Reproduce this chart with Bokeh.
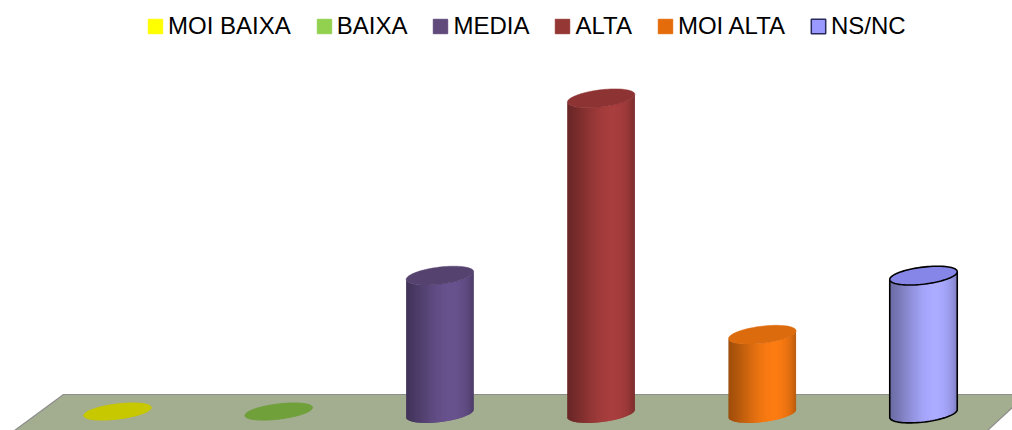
import numpy as np
from bokeh.plotting import figure
from bokeh.models import Range1d, Legend, LegendItem
from bokeh.embed import file_html
from bokeh.resources import INLINE

# ---------------- data ----------------
categories = ["MOI BAIXA", "BAIXA", "MEDIA", "ALTA", "MOI ALTA", "NS/NC"]
values = [0, 0, 7, 16, 4, 7]
legend_colors = ["#FFFF00", "#92D050", "#604A7B", "#953735", "#E46C0A", "#9999FF"]
body_colors = ["#C8C800", "#6FA03A", "#67518C", "#A63D3D", "#F87A12", "#A8A8FF"]
top_colors = ["#C8C800", "#6FA03A", "#56426F", "#8E3333", "#DC6B0D", "#8686E8"]
outline_colors = [None, None, None, None, None, "#000000"]

# ---------------- geometry (pixel scale helpers) ----------------
W, H = 1012, 430
SX = 161.2          # pixels per category step
SY = 19.7           # pixels per value unit
X0_PX = 117         # pixel x of first category
BASE_PX = 413       # pixel y of value 0
A_PX, B_PX = 34.0, 8.5
PHI = np.deg2rad(7)

x_range = Range1d(-X0_PX / SX, (W - X0_PX) / SX)
y_range = Range1d((BASE_PX - H) / SY, BASE_PX / SY)

p = figure(width=W, height=H, x_range=x_range, y_range=y_range,
           x_axis_type=None, y_axis_type=None, toolbar_location=None,
           output_backend="svg", min_border=0, outline_line_color=None,
           background_fill_color="white", border_fill_color="white")
p.grid.visible = False


def ell(cx, cy, t, b=B_PX):
    dx = A_PX * np.cos(t) * np.cos(PHI) - b * np.sin(t) * np.sin(PHI)
    dy = A_PX * np.cos(t) * np.sin(PHI) + b * np.sin(t) * np.cos(PHI)
    return cx + dx / SX, cy + dy / SY


def shade(hexc, f):
    r, g, b = int(hexc[1:3], 16), int(hexc[3:5], 16), int(hexc[5:7], 16)
    return "#%02x%02x%02x" % tuple(int(max(0, min(255, c * f))) for c in (r, g, b))


# floor (parallelogram under the categories)
fy_top = (BASE_PX - 394) / SY
fy_bot = (BASE_PX - H) / SY
floor_x = [(63 - X0_PX) / SX, (1026 - X0_PX) / SX, (987 - X0_PX) / SX, (14 - X0_PX) / SX]
floor_y = [fy_top, fy_top, fy_bot, fy_bot]
p.patch(floor_x, floor_y, fill_color="#A3AD8F", line_color="#8E8E8E", line_width=1.2)

# cylinders
N = 40
tt = np.linspace(np.pi, 2 * np.pi, N + 1)
tf = np.linspace(0, 2 * np.pi, 90)
for i, (cat, v) in enumerate(zip(categories, values)):
    cx = float(i)
    if v > 0:
        xs, ys, cols = [], [], []
        for k in range(N):
            t0, t1 = tt[k], tt[min(k + 2, N)]
            xb0, yb0 = ell(cx, 0, t0)
            xb1, yb1 = ell(cx, 0, t1)
            xt0, yt0 = ell(cx, v, t0)
            xt1, yt1 = ell(cx, v, t1)
            u = (k + 0.5) / N
            f = 0.62 + 0.40 * np.exp(-((u - 0.6) / 0.32) ** 2)
            xs.append([xb0, xb1, xt1, xt0])
            ys.append([yb0, yb1, yt1, yt0])
            cols.append(shade(body_colors[i], f))
        p.patches(xs, ys, fill_color=cols, line_color=None)
        if outline_colors[i]:
            bx, by = ell(cx, 0, tt)
            lx = [bx[0]] + list(bx) + [bx[-1]]
            ly = [v + by[0]] + list(by) + [v + by[-1]]
            p.line(lx, ly, line_color=outline_colors[i], line_width=1.6)
        ex, ey = ell(cx, v, tf)
        p.patch(list(ex), list(ey), fill_color=top_colors[i],
                line_color=outline_colors[i] or top_colors[i],
                line_width=1.6 if outline_colors[i] else 0.5)
    else:
        ex, ey = ell(cx, 0.1, tf, b=7.5)
        p.patch(list(ex), list(ey), fill_color=top_colors[i], line_color=top_colors[i])

# legend (swatches use off-screen quads so only the legend glyph shows)
items = []
for i, cat in enumerate(categories):
    r = p.quad(left=[100], right=[101], top=[100], bottom=[99], fill_color=legend_colors[i],
               line_color="#2A2A5A" if outline_colors[i] else legend_colors[i],
               line_width=1.5 if outline_colors[i] else 1)
    items.append(LegendItem(label=cat, renderers=[r]))

legend = Legend(items=items, orientation="horizontal", location=(146, 390),
                glyph_width=18, glyph_height=18, label_standoff=4, spacing=24,
                padding=0, margin=0, border_line_alpha=0, background_fill_alpha=0,
                label_text_font="Liberation Sans", label_text_font_size="24px",
                label_text_color="#000000", label_height=22)
p.add_layout(legend)

open("out.html", "w").write(file_html(p, INLINE))
